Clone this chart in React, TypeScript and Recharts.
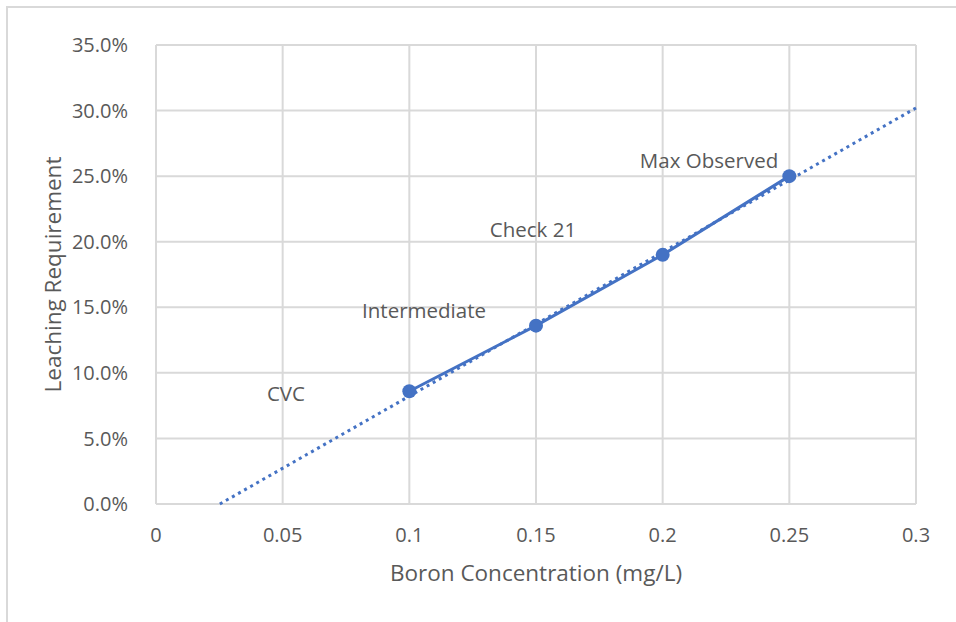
import React from 'react';
import { ScatterChart, Scatter, XAxis, YAxis, CartesianGrid, Label } from 'recharts';

// measured points (x: mg/L, y: % leaching requirement)
const boron = [0.1, 0.15, 0.2, 0.25];
const leaching = [8.6, 13.6, 19.0, 25.0];

// linear trendline ends
const trendX = [0.0252, 0.3];
const trendY = [0, 30.2];

// data label text and where it sits, in data units
const labelText = ['CVC', 'Intermediate', 'Check 21', 'Max Observed'];
const labelX = [0.0513, 0.1058, 0.1488, 0.2183];
const labelY = [8.5, 14.8, 21.0, 26.2];

const xTicks = [0, 0.05, 0.1, 0.15, 0.2, 0.25, 0.3];
const yTicks = [0, 5, 10, 15, 20, 25, 30, 35];

const BLUE = '#4472C4';
const GRID = '#d9d9d9';
const TEXT = '#595959';
const FONT = '"Open Sans", sans-serif';

const points = boron.map((x, i) => ({ x, y: leaching[i] }));
const trend = trendX.map((x, i) => ({ x, y: trendY[i] }));
const labels = labelText.map((text, i) => ({ x: labelX[i], y: labelY[i], text }));

const Dot = (p: any) => <circle cx={p.cx} cy={p.cy} r={7} fill={BLUE} />;
const NoDot = () => null;
const LabelText = (p: any) => (
  <text x={p.cx} y={p.cy} textAnchor="middle" dominantBaseline="central" fill={TEXT} fontSize={20.5} fontFamily={FONT}>
    {p.payload.text}
  </text>
);

export default function App() {
  return (
    <div style={{ position: 'absolute', left: 0, top: 0, width: 956, height: 622, background: '#fff', fontFamily: FONT }}>
      <div style={{ position: 'absolute', left: 6, top: 6, width: 948, height: 620, borderTop: `2px solid ${GRID}`, borderLeft: `2px solid ${GRID}` }} />
      <ScatterChart width={956} height={622} margin={{ top: 45, right: 40, bottom: 0, left: 0 }} style={{ position: 'absolute', left: 0, top: 0 }}>
        <CartesianGrid stroke={GRID} strokeWidth={2} />
        <XAxis
          type="number"
          dataKey="x"
          domain={[0, 0.3]}
          ticks={xTicks}
          axisLine={false}
          tickLine={false}
          height={118}
          tick={{ fill: TEXT, fontSize: 20, fontFamily: FONT }}
          tickMargin={18}
          tickFormatter={(v: number) => String(v)}
        >
          <Label value="Boron Concentration (mg/L)" position="insideTop" offset={61} fill={TEXT} fontSize={22.5} fontFamily={FONT} />
        </XAxis>
        <YAxis
          type="number"
          dataKey="y"
          domain={[0, 35]}
          ticks={yTicks}
          axisLine={false}
          tickLine={false}
          width={156}
          tick={{ fill: TEXT, fontSize: 20, fontFamily: FONT }}
          tickMargin={22}
          tickFormatter={(v: number) => v.toFixed(1) + '%'}
        >
          <Label value="Leaching Requirement" angle={-90} position="insideLeft" offset={53} fill={TEXT} fontSize={22.5} fontFamily={FONT} style={{ textAnchor: 'middle' }} />
        </YAxis>
        <Scatter
          data={trend}
          line={{ stroke: BLUE, strokeWidth: 3, strokeDasharray: '3 4' }}
          shape={NoDot}
          isAnimationActive={false}
        />
        <Scatter
          data={points}
          line={{ stroke: BLUE, strokeWidth: 3 }}
          shape={Dot}
          isAnimationActive={false}
        />
        <Scatter data={labels} shape={LabelText} isAnimationActive={false} />
      </ScatterChart>
    </div>
  );
}
